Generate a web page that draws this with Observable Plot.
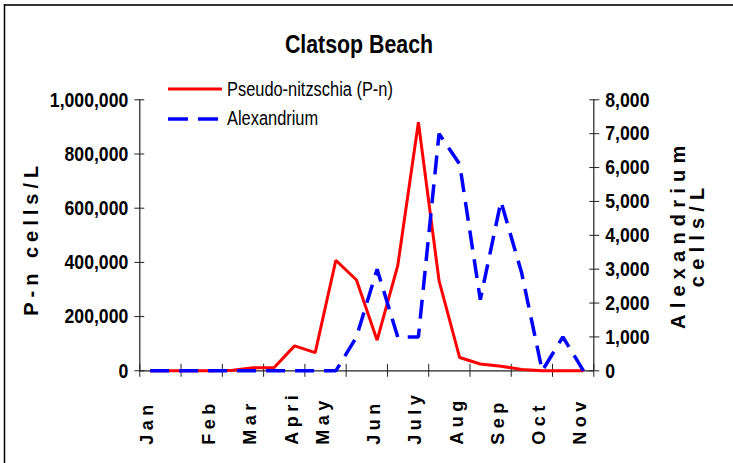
<!DOCTYPE html>
<html>
<head>
<meta charset="utf-8">
<script src="https://cdn.jsdelivr.net/npm/d3@7"></script>
<script src="https://cdn.jsdelivr.net/npm/@observablehq/plot@0.6"></script>
<style>
  html, body { margin: 0; padding: 0; background: #fff; }
  #wrap { position: relative; width: 733px; height: 463px; }
  #overlay { position: absolute; left: 0; top: 0; pointer-events: none; }
</style>
</head>
<body>
<div id="wrap"></div>
<script>
// ---- data ----
const title = "Clatsop Beach";
const seriesNames = ["Pseudo-nitzschia (P-n)", "Alexandrium"];
const categories = d3.range(22); // sampling dates (category index)
const pnCells = [0, 0, 0, 0, 2000, 11000, 11000, 92000, 67000, 408000, 335000, 113000,
                 388000, 917000, 333000, 49000, 25000, 17000, 5000, 0, 0, 0];
const alexCells = [0, 0, 0, 0, 0, 0, 0, 0, 0, 0, 1000, 3000,
                   1000, 1000, 7000, 6100, 2100, 5000, 2900, 0, 1000, 0];
const monthNames = ["Jan", "Feb", "Mar", "Apri", "May", "Jun", "July", "Aug", "Sep", "Oct", "Nov"];
const monthCategory = [0, 3, 5, 7, 8.5, 11, 13, 15, 17, 19, 21];
const leftTicks = [0, 200000, 400000, 600000, 800000, 1000000];
const rightTicks = [0, 1000, 2000, 3000, 4000, 5000, 6000, 7000, 8000];
const leftTitle = "P-n cells/L";
const rightTitleLines = ["Alexandrium", "cells/L"];

const leftMax = 1000000, rightMax = 8000;
const k = leftMax / rightMax;
const xTicks = d3.range(-0.5, categories.length, 2);

const data = categories.map((c, i) => ({i: c, pn: pnCells[i], alex: alexCells[i]}));

const font = "'Liberation Sans', Arial, sans-serif";
const fmt = d3.format(",");
const wideTexts = new Set([...monthNames, leftTitle, ...rightTitleLines]);

const chart = Plot.plot({
  width: 733,
  height: 463,
  marginLeft: 139.3,
  marginRight: 139.7,
  marginTop: 99.3,
  marginBottom: 92.7,
  style: {fontFamily: font, background: "#fff", color: "#000"},
  x: {type: "linear", domain: [-0.5, categories.length - 0.5], axis: null},
  y: {domain: [0, leftMax], axis: null},
  marks: [
    Plot.ruleX([-0.5, categories.length - 0.5], {stroke: "#222", strokeWidth: 1.2}),
    Plot.ruleY([0], {stroke: "#222", strokeWidth: 1.2}),
    Plot.axisY({anchor: "left", ticks: leftTicks, tickSize: 10, dx: 5, tickPadding: 6.5,
      tickFormat: fmt, fontSize: 21, fontWeight: "bold", stroke: "#222", label: null}),
    Plot.axisY({anchor: "right", ticks: rightTicks.map(v => v * k), tickSize: 10, dx: -5, tickPadding: 6.5,
      tickFormat: d => fmt(Math.round(d / k)), fontSize: 21, fontWeight: "bold", stroke: "#222", label: null}),
    Plot.axisX({ticks: xTicks, tickSize: 13, dy: -6.5, tickFormat: () => "", stroke: "#222", label: null}),
    Plot.text(monthNames, {x: (d, i) => monthCategory[i], text: d => d, frameAnchor: "bottom",
      dy: 74, dx: 3, rotate: -90, textAnchor: "start", fontSize: 18, fontWeight: "bold", fill: "#000"}),
    Plot.text([leftTitle], {frameAnchor: "left", dx: -108, dy: 3, rotate: -90, text: d => d,
      textAnchor: "middle", fontSize: 20, fontWeight: "bold", fill: "#000"}),
    Plot.text([rightTitleLines[0]], {frameAnchor: "right", dx: 85, dy: -1, rotate: -90, text: d => d,
      textAnchor: "middle", fontSize: 20, fontWeight: "bold", fill: "#000"}),
    Plot.text([rightTitleLines[1]], {frameAnchor: "right", dx: 104, dy: -1, rotate: -90, text: d => d,
      textAnchor: "middle", fontSize: 20, fontWeight: "bold", fill: "#000"}),
    Plot.line(data, {x: "i", y: "pn", stroke: "#ff0000", strokeWidth: 3, strokeLinejoin: "miter", strokeLinecap: "butt"}),
    Plot.line(data, {x: "i", y: d => d.alex * k, stroke: "#0000ff", strokeWidth: 3.5,
      strokeDasharray: "19,10", strokeLinecap: "butt", strokeLinejoin: "miter"})
  ]
});

const wrap = document.getElementById("wrap");
wrap.appendChild(chart);

// condensed look for tick labels (narrow font emulation), letter-spacing for rotated texts
function squeeze(sel, f) {
  sel.each(function() {
    const L = this.getComputedTextLength();
    if (L > 0) { this.setAttribute("textLength", (L * f).toFixed(2)); this.setAttribute("lengthAdjust", "spacingAndGlyphs"); }
  });
}
d3.select(chart).selectAll("text").each(function() {
  const t = this.textContent;
  const s = d3.select(this);
  if (monthNames.includes(t)) s.style("letter-spacing", "4.5px");
  else if (t === leftTitle) s.style("letter-spacing", "5px");
  else if (rightTitleLines.includes(t)) s.style("letter-spacing", "6.2px");
});
squeeze(d3.select(chart).selectAll("text").filter(function() { return !wideTexts.has(this.textContent); }), 0.84);

// overlay: title, legend, frame lines
const svg = d3.select(wrap).append("svg").attr("id", "overlay")
  .attr("width", 733).attr("height", 463).style("font-family", font);
svg.append("line").attr("x1", 4).attr("x2", 733).attr("y1", 5).attr("y2", 5)
  .attr("stroke", "#333").attr("stroke-width", 2);
svg.append("line").attr("x1", 4.5).attr("x2", 4.5).attr("y1", 4).attr("y2", 463)
  .attr("stroke", "#000").attr("stroke-width", 1.5);
const tt = svg.append("text").attr("x", 359).attr("y", 53).attr("text-anchor", "middle")
  .style("font-size", "26px").style("font-weight", "bold").text(title);
const leg = svg.append("g");
leg.append("line").attr("x1", 168).attr("x2", 222).attr("y1", 89).attr("y2", 89)
  .attr("stroke", "#ff0000").attr("stroke-width", 3);
leg.append("text").attr("x", 227).attr("y", 95.5)
  .style("font-size", "20px").text(seriesNames[0]);
leg.append("line").attr("x1", 168).attr("x2", 218).attr("y1", 119).attr("y2", 119)
  .attr("stroke", "#0000ff").attr("stroke-width", 3.5).attr("stroke-dasharray", "20,10");
leg.append("text").attr("x", 227).attr("y", 125)
  .style("font-size", "20px").text(seriesNames[1]);
squeeze(svg.selectAll("text"), 0.82);
</script>
</body>
</html>
